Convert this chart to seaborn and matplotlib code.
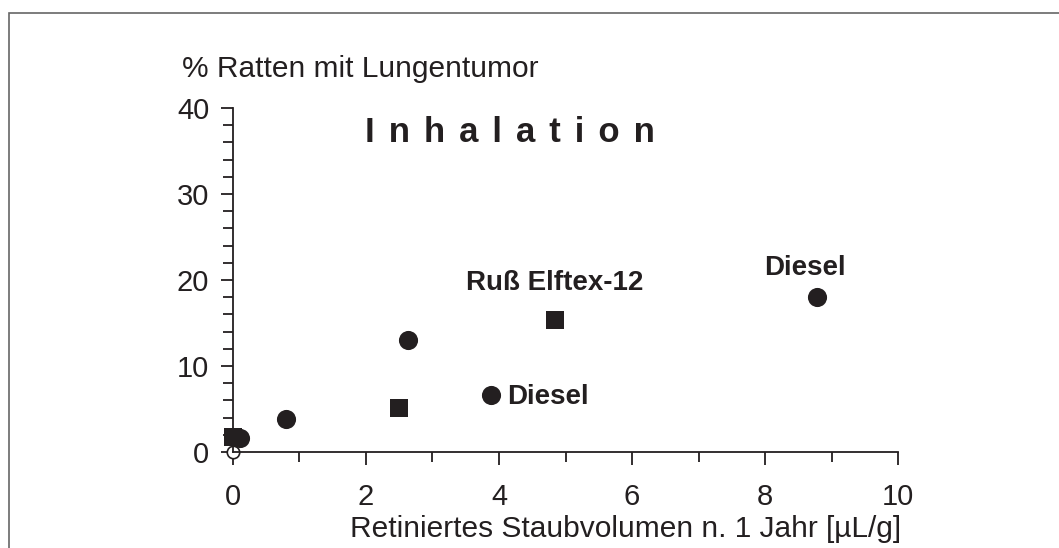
import seaborn as sns
import matplotlib.pyplot as plt
import matplotlib.patches as mpatches
from matplotlib.ticker import MultipleLocator
import pandas as pd

# values
kreis_x = [0.1, 0.8, 2.63, 3.88, 8.78]
kreis_y = [1.6, 3.9, 13.0, 6.6, 18.0]
quadrat_x = [0.0, 2.5, 4.84]
quadrat_y = [1.8, 5.1, 15.3]
kontrolle_x = [0.0]
kontrolle_y = [0.0]

x_label = "Retiniertes Staubvolumen n. 1 Jahr [µL/g]"
y_label = "% Ratten mit Lungentumor"
titel = "\u2009\u2009".join("Inhalation")

kreise = pd.DataFrame({"x": kreis_x, "y": kreis_y})
quadrate = pd.DataFrame({"x": quadrat_x, "y": quadrat_y})
kontrolle = pd.DataFrame({"x": kontrolle_x, "y": kontrolle_y})

sns.set_style("ticks")
plt.rcParams["font.family"] = ["Liberation Sans", "DejaVu Sans"]
ink = "#231f20"

fig = plt.figure(figsize=(10.59, 5.48), dpi=100)
ax = fig.add_axes([0.22, 0.175, 0.628, 0.628])

sns.scatterplot(data=kontrolle, x="x", y="y", ax=ax, marker="o", s=80,
                color="white", edgecolor=ink, linewidth=1.2, clip_on=False,
                zorder=2)
sns.scatterplot(data=quadrate, x="x", y="y", ax=ax, marker="s", s=170,
                color=ink, edgecolor=ink, linewidth=0, clip_on=False, zorder=3)
sns.scatterplot(data=kreise, x="x", y="y", ax=ax, marker="o", s=190,
                color=ink, edgecolor=ink, linewidth=0, clip_on=False, zorder=3)

ax.set_xlim(0, 10)
ax.set_ylim(0, 40)
ax.xaxis.set_major_locator(MultipleLocator(2))
ax.xaxis.set_minor_locator(MultipleLocator(1))
ax.yaxis.set_major_locator(MultipleLocator(10))
ax.yaxis.set_minor_locator(MultipleLocator(2))
ax.tick_params(which="major", length=9, width=1.3, color=ink, labelsize=21,
               labelcolor=ink)
ax.tick_params(axis="x", which="major", pad=13)
ax.tick_params(axis="y", which="major", pad=8)
ax.tick_params(which="minor", length=7, width=1.3, color=ink)
sns.despine(ax=ax)
for side in ["left", "bottom"]:
    ax.spines[side].set_linewidth(1.3)
    ax.spines[side].set_color(ink)

ax.set_xlabel(x_label, fontsize=21.5, color=ink)
ax.xaxis.set_label_coords(0.591, -0.183)
ax.set_ylabel("")
fig.text(0.172, 0.859, y_label, fontsize=21.5, color=ink, va="baseline")

ax.text(0.4165, 0.929, titel, transform=ax.transAxes, ha="center",
        va="center", fontsize=25, fontweight="bold", color=ink)

ax.annotate("Ruß Elftex-12", (quadrat_x[2], quadrat_y[2]), xytext=(0, 27),
            textcoords="offset points", ha="center", va="center",
            fontsize=20, fontweight="bold", color=ink)
ax.annotate("Diesel", (kreis_x[3], kreis_y[3]), xytext=(11.5, -1),
            textcoords="offset points", ha="left", va="center",
            fontsize=20, fontweight="bold", color=ink)
ax.annotate("Diesel", (kreis_x[4], kreis_y[4]), xytext=(-8.6, 21),
            textcoords="offset points", ha="center", va="center",
            fontsize=20, fontweight="bold", color=ink)

rahmen = mpatches.Rectangle((9 / 1059, -0.5), 2, 0.5 + 1 - 13 / 548,
                            transform=fig.transFigure, fill=False,
                            edgecolor="#666666", linewidth=1.2)
fig.add_artist(rahmen)

fig.savefig("out.png", dpi=100)
